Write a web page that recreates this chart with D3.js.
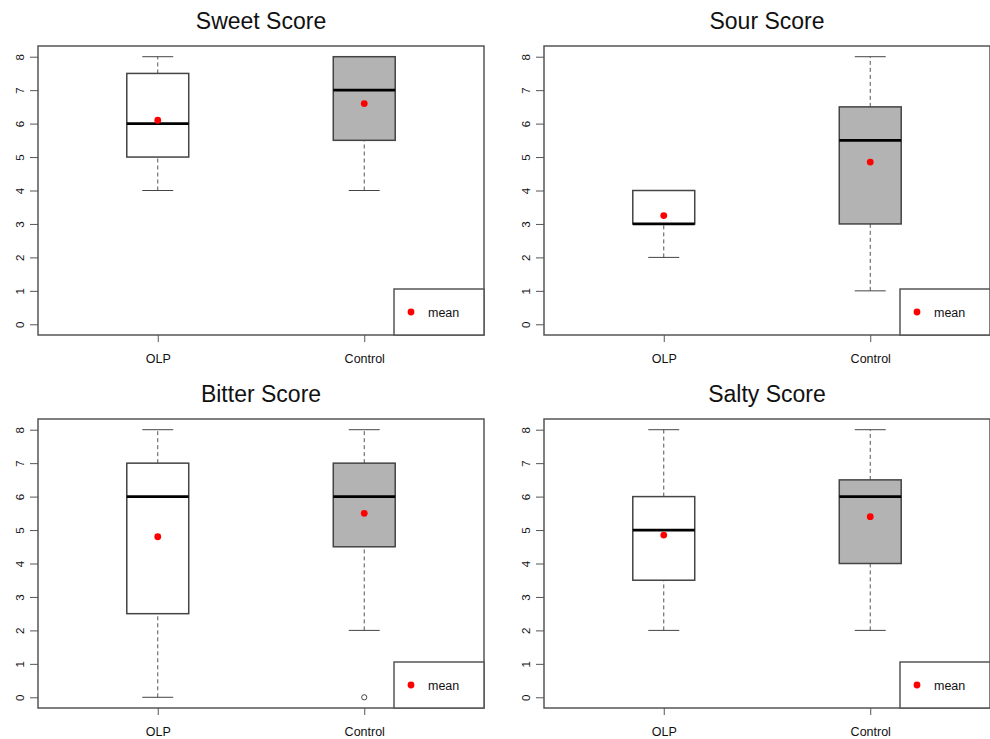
<!DOCTYPE html>
<html>
<head>
<meta charset="utf-8">
<script src="https://cdn.jsdelivr.net/npm/d3@7"></script>
<style>
  body { margin: 0; background: #fff; }
  text { font-family: "Liberation Sans", Arial, Helvetica, sans-serif; fill: #111; }
</style>
</head>
<body>
<script>
// Chart data
const titles = ["Sweet Score", "Sour Score", "Bitter Score", "Salty Score"];
const groups = ["OLP", "Control"];
const minVals = [[4, 4], [2, 1], [0, 2], [2, 2]];
const q1Vals = [[5, 5.5], [3, 3], [2.5, 4.5], [3.5, 4]];
const medVals = [[6, 7], [3, 5.5], [6, 6], [5, 6]];
const q3Vals = [[7.5, 8], [4, 6.5], [7, 7], [6, 6.5]];
const maxVals = [[8, 8], [4, 8], [8, 8], [8, 8]];
const meanVals = [[6.1, 6.6], [3.25, 4.85], [4.8, 5.5], [4.85, 5.4]];
const outliers = [[[], []], [[], []], [[], [0]], [[], []]];
const yTicks = [0, 1, 2, 3, 4, 5, 6, 7, 8];
const legendLabel = "mean";

// Layout
const width = 990;
const height = 739;
const frameW = 446;
const frameH = 289;
const panelLeft = [38, 544, 38, 544];
const panelTop = [46, 46, 419, 419];
const boxFill = ["#ffffff", "#b3b3b3"];

const svg = d3.select("body")
    .append("svg")
    .attr("width", width)
    .attr("height", height);

titles.forEach((title, p) => {
    const left = panelLeft[p];
    const top = panelTop[p];

    const x = d3.scaleLinear()
        .domain([0.42, 2.58])
        .range([left, left + frameW]);

    const y = d3.scaleLinear()
        .domain([-0.32, 8.32])
        .range([top + frameH, top]);

    const g = svg.append("g");

    // Title
    g.append("text")
        .attr("x", left + frameW / 2)
        .attr("y", top - 17)
        .attr("text-anchor", "middle")
        .style("font-size", "23px")
        .text(title);

    // Boxes
    groups.forEach((name, i) => {
        const cx = x(i + 1);
        const half = x(1.15) - x(1);
        const cap = x(1.075) - x(1);

        // whiskers
        [[minVals[p][i], q1Vals[p][i]], [q3Vals[p][i], maxVals[p][i]]].forEach(([a, b]) => {
            if (a === b) return;
            g.append("line")
                .attr("x1", cx).attr("x2", cx)
                .attr("y1", y(a)).attr("y2", y(b))
                .attr("stroke", "#555")
                .attr("stroke-width", 1)
                .attr("stroke-dasharray", "4,3");
        });

        // staples
        [minVals[p][i], maxVals[p][i]].forEach(v => {
            g.append("line")
                .attr("x1", cx - cap).attr("x2", cx + cap)
                .attr("y1", y(v)).attr("y2", y(v))
                .attr("stroke", "#444")
                .attr("stroke-width", 1);
        });

        // box
        g.append("rect")
            .attr("x", cx - half)
            .attr("y", y(q3Vals[p][i]))
            .attr("width", half * 2)
            .attr("height", y(q1Vals[p][i]) - y(q3Vals[p][i]))
            .attr("fill", boxFill[i])
            .attr("stroke", "#444")
            .attr("stroke-width", 1.5);

        // median
        g.append("line")
            .attr("x1", cx - half).attr("x2", cx + half)
            .attr("y1", y(medVals[p][i])).attr("y2", y(medVals[p][i]))
            .attr("stroke", "#000")
            .attr("stroke-width", 2.8);

        // outliers
        outliers[p][i].forEach(v => {
            g.append("circle")
                .attr("cx", cx)
                .attr("cy", y(v))
                .attr("r", 2.6)
                .attr("fill", "none")
                .attr("stroke", "#444")
                .attr("stroke-width", 1);
        });

        // mean
        g.append("circle")
            .attr("cx", cx)
            .attr("cy", y(meanVals[p][i]))
            .attr("r", 3.4)
            .attr("fill", "#ff0000");
    });

    // Frame
    g.append("rect")
        .attr("x", left)
        .attr("y", top)
        .attr("width", frameW)
        .attr("height", frameH)
        .attr("fill", "none")
        .attr("stroke", "#555")
        .attr("stroke-width", 1.5);

    // Y axis
    const yAxis = g.append("g")
        .attr("transform", `translate(${left}, 0)`)
        .call(d3.axisLeft(y).tickValues(yTicks).tickSize(8));
    yAxis.select(".domain").remove();
    yAxis.selectAll("line").attr("stroke", "#555");
    yAxis.selectAll("text")
        .attr("transform", "rotate(-90)")
        .attr("x", 0)
        .attr("y", -14)
        .attr("dy", 0)
        .attr("text-anchor", "middle")
        .style("font-size", "11.5px")
        .style("font-family", "'Liberation Sans', Arial, sans-serif")
        .attr("fill", "#333");

    // X axis
    const xAxis = g.append("g")
        .attr("transform", `translate(0, ${top + frameH})`)
        .call(d3.axisBottom(x).tickValues([1, 2]).tickSize(7).tickPadding(12)
            .tickFormat(d => groups[d - 1]));
    xAxis.select(".domain").remove();
    xAxis.selectAll("line").attr("stroke", "#555");
    xAxis.selectAll("text")
        .style("font-size", "12.5px")
        .style("font-family", "'Liberation Sans', Arial, sans-serif")
        .attr("fill", "#222");

    // Legend
    const lw = 90, lh = 46;
    const lx = left + frameW - lw;
    const ly = top + frameH - lh;
    g.append("rect")
        .attr("x", lx)
        .attr("y", ly)
        .attr("width", lw)
        .attr("height", lh)
        .attr("fill", "#fff")
        .attr("stroke", "#555")
        .attr("stroke-width", 1.5);
    g.append("circle")
        .attr("cx", lx + 17)
        .attr("cy", ly + 23)
        .attr("r", 3.4)
        .attr("fill", "#ff0000");
    g.append("text")
        .attr("x", lx + 34)
        .attr("y", ly + 28)
        .style("font-size", "12.5px")
        .text(legendLabel);
});
</script>
</body>
</html>
